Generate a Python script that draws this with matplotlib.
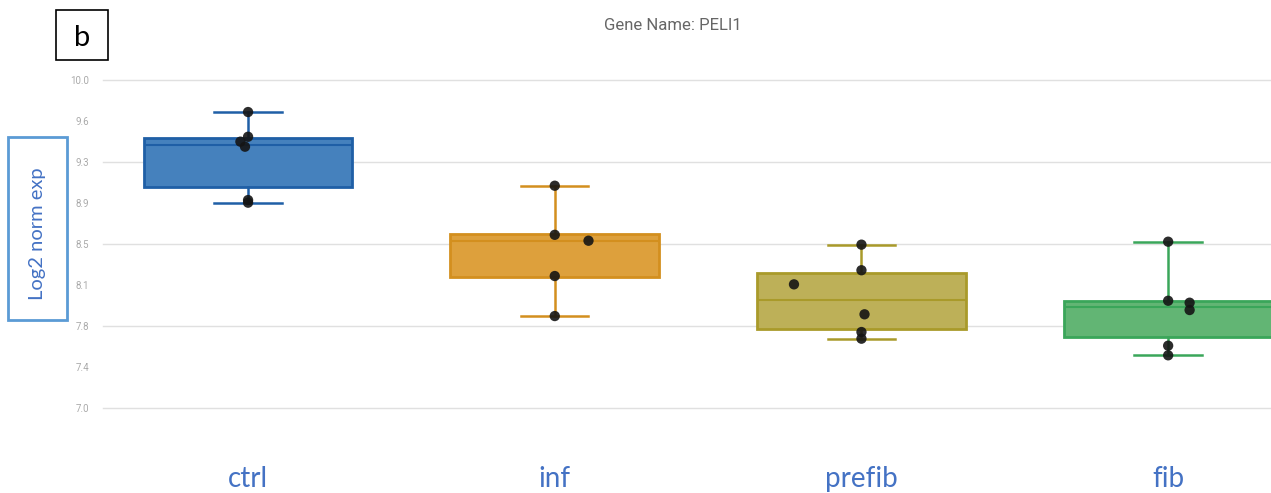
import matplotlib.pyplot as plt
from matplotlib.patches import Rectangle
import numpy as np

# groups and colours
groups = ['ctrl', 'inf', 'prefib', 'fib']
fills = ['#4581BD', '#DDA03C', '#BDB058', '#62B574']
edges = ['#1F5FA6', '#D38F1E', '#A99A2A', '#3AA65A']

# box statistics (log2 normalised expression)
q1 = [9.024, 8.201, 7.725, 7.647]
med = [9.410, 8.525, 7.988, 7.928]
q3 = [9.467, 8.588, 8.232, 7.981]
lo = [8.878, 7.841, 7.634, 7.482]
hi = [9.707, 9.033, 8.494, 8.521]

# individual samples and their horizontal jitter
pts = [
    [9.707, 9.481, 9.436, 9.390, 8.902, 8.878],
    [9.033, 8.584, 8.530, 8.207, 7.841],
    [8.494, 8.260, 8.131, 7.857, 7.695, 7.634],
    [8.521, 7.981, 7.963, 7.896, 7.570, 7.482],
]
dx = [
    [0, 0, -0.025, -0.01, 0, 0],
    [0, 0, 0.11, 0, 0],
    [0, 0, -0.22, 0.01, 0, 0],
    [0, 0, 0.07, 0.07, 0, 0],
]

yticks = [7.0, 7.375, 7.75, 8.125, 8.5, 8.875, 9.25, 9.625, 10.0]
ylabels = ['7.0', '7.4', '7.8', '8.1', '8.5', '8.9', '9.3', '9.6', '10.0']

fig = plt.figure(figsize=(12.71, 4.93), dpi=100)
ax = fig.add_axes([103 / 1271, 85 / 493, 1218.5 / 1271, 328 / 493])

stats = [dict(q1=a, med=m, q3=b, whislo=l, whishi=h, label=g)
         for a, m, b, l, h, g in zip(q1, med, q3, lo, hi, groups)]
bp = ax.bxp(stats, positions=range(len(groups)), widths=0.68, capwidths=0.22,
            patch_artist=True, showfliers=False, zorder=3)
for i in range(len(groups)):
    bp['boxes'][i].set(facecolor=fills[i], edgecolor=edges[i], linewidth=2)
    bp['medians'][i].set(color=edges[i], linewidth=1.5)
    for ln in bp['whiskers'][2 * i:2 * i + 2] + bp['caps'][2 * i:2 * i + 2]:
        ln.set(color=edges[i], linewidth=1.8)

for i, (p, d) in enumerate(zip(pts, dx)):
    ax.scatter(np.array(d) + i, p, s=55, color='#151515', alpha=0.9,
               zorder=5, edgecolors='none')

ax.set_xlim(-0.473, 3.5)
ax.set_ylim(7.0, 10.0)
ax.set_yticks(yticks[::2])
ax.set_yticks(yticks[1::2], minor=True)
ax.set_yticklabels(ylabels[::2])
ax.set_yticklabels(ylabels[1::2], minor=True)
ax.tick_params(axis='y', which='both', length=0, pad=10, labelsize=7,
               labelcolor='#aaaaaa')
for t in ax.get_yticklabels(which='both'):
    t.set_family('Roboto')
ax.grid(axis='y', which='major', color='#e0e0e0', linewidth=1, zorder=0)
for gl in ax.get_ygridlines():
    gl.set_clip_on(False)

ax.set_xticks(range(len(groups)))
ax.set_xticklabels(groups, family='Lato', fontsize=20, color='#4472C4')
ax.tick_params(axis='x', length=0, pad=42)
for s in ax.spines.values():
    s.set_visible(False)

fig.text(673 / 1271, 1 - 25 / 493, 'Gene Name: PELI1', family='Roboto',
         fontsize=12, color='#666666', ha='center', va='center')

# panel letter
fig.patches.append(Rectangle((56 / 1271, 433 / 493), 52 / 1271, 50 / 493,
                             transform=fig.transFigure, fill=False,
                             edgecolor='black', linewidth=1.2))
fig.text(82 / 1271, 1 - 38 / 493, 'b', family='Lato', fontsize=21,
         ha='center', va='center')

# y axis caption box
fig.patches.append(Rectangle((8 / 1271, 173 / 493), 59 / 1271, 183 / 493,
                             transform=fig.transFigure, fill=False,
                             edgecolor='#5B9BD5', linewidth=2))
fig.text(37.5 / 1271, 1 - 234 / 493, 'Log2 norm exp', family='Lato',
         fontsize=14.5, color='#4472C4', rotation=90, ha='center', va='center')

fig.savefig('out.png', dpi=100)
